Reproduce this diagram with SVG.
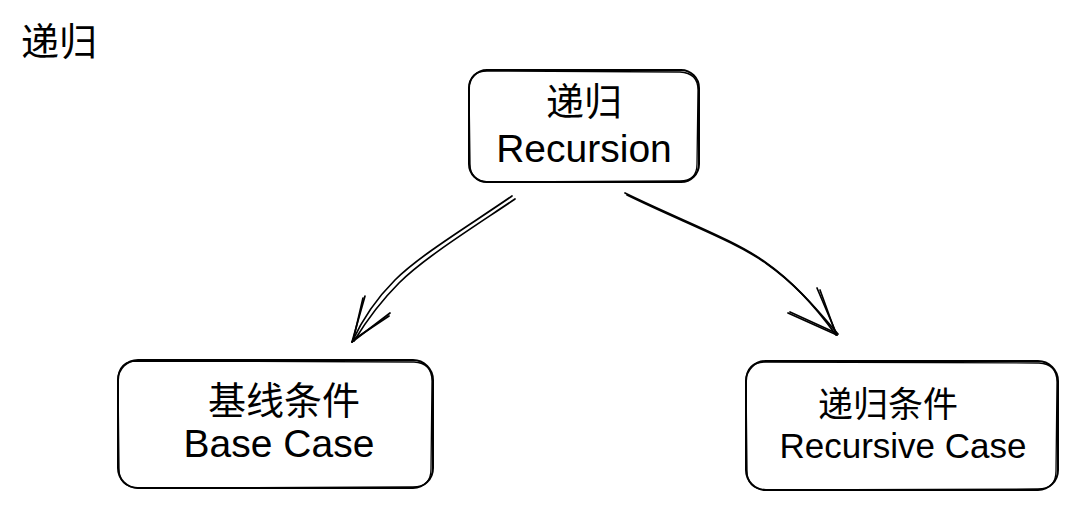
<svg xmlns="http://www.w3.org/2000/svg" width="1079" height="509" viewBox="0 0 1079 509">
<style>
.box{fill:#fff;stroke:#000;stroke-width:2}
.box2{fill:none;stroke:#000;stroke-width:1.3}
.ln{fill:none;stroke:#000;stroke-width:1.7;stroke-linecap:round}
.t{font-family:"Liberation Sans","Noto Sans CJK SC",sans-serif;fill:#000;text-anchor:middle}
</style>
<rect width="1079" height="509" fill="#fff"/>
<text class="t" x="59" y="55" font-size="38">递归</text>
<g id="connectors">
<path class="ln" d="M512 196 C470 225 420 255 395 280 C375 300 362 320 352 342"/>
<path class="ln" d="M515 199 C472 228 424 258 399 283 C379 303 365 323 354 341"/>
<path class="ln" d="M352 342 L365 296"/>
<path class="ln" d="M353 341 L363 298"/>
<path class="ln" d="M352 342 L390 313"/>
<path class="ln" d="M353 340 L389 316"/>
<path class="ln" d="M625 193 C680 220 735 240 765 262 C795 283 818 310 836 335"/>
<path class="ln" d="M627 195 C682 222 737 242 767 264 C797 285 819 312 838 334"/>
<path class="ln" d="M837 335 L817 288"/>
<path class="ln" d="M836 334 L820 290"/>
<path class="ln" d="M837 335 L788 313"/>
<path class="ln" d="M836 333 L790 312"/>
</g>
<g id="recursion">
<rect class="box" x="469" y="70" width="230" height="112" rx="18"/>
<path class="box2" d="M487 71 L680 72 Q698 73 698 90 L697 164 Q697 181 680 181 L488 182 Q470 181 470 164 L469 88 Q470 71 487 71"/>
<text class="t" x="584" y="115" font-size="38">递归</text>
<text class="t" x="584" y="162" font-size="39">Recursion</text>
</g>
<g id="base">
<rect class="box" x="118" y="360" width="315" height="128" rx="20"/>
<path class="box2" d="M137 361 L414 362 Q432 363 432 381 L431 469 Q431 487 413 487 L138 488 Q119 487 119 469 L118 379 Q119 361 137 361"/>
<text class="t" x="284" y="414" font-size="38">基线条件</text>
<text class="t" x="279" y="457" font-size="39">Base Case</text>
</g>
<g id="recursive">
<rect class="box" x="746" y="361" width="312" height="129" rx="20"/>
<path class="box2" d="M765 362 L1039 363 Q1057 364 1057 382 L1056 471 Q1056 489 1038 489 L766 490 Q747 489 747 471 L746 380 Q747 362 765 362"/>
<text class="t" x="888" y="417" font-size="35">递归条件</text>
<text class="t" x="903" y="458" font-size="35">Recursive Case</text>
</g>
</svg>
